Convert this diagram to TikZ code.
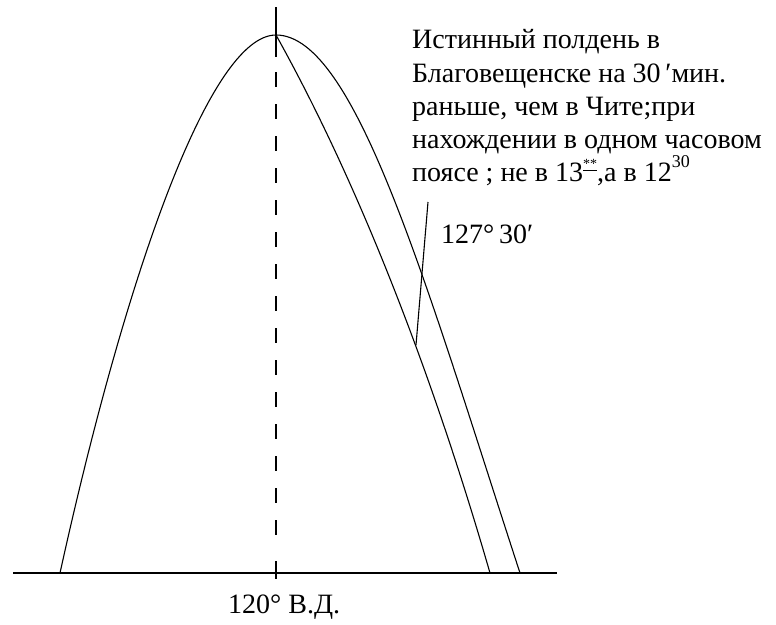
\documentclass[tikz,border=0pt]{standalone}
\usepackage{fontspec}
\setmainfont{Liberation Serif}
\begin{document}
\begin{tikzpicture}[x=1pt,y=-1pt,
  curve/.style={line width=1.1pt},
  axisline/.style={line width=1.4pt},
  lbl/.style={inner sep=0pt,anchor=base west,font=\fontsize{28}{32}\selectfont}]
\useasboundingbox (0,0) rectangle (776,624);
% axis
\coordinate (axL) at (13,573);
\coordinate (axR) at (557,573);
\draw[axisline] (axL) -- (axR);
% meridian 120
\coordinate (apex) at (276,35);
\coordinate (mTop) at (276,7);
\coordinate (mTopEnd) at (276,57);
\coordinate (mDashA) at (276,72);
\coordinate (mDashB) at (276,545);
\coordinate (mBot) at (276,561);
\coordinate (mBotEnd) at (276,579);
\draw[line width=1.1pt] (mTop) -- (mTopEnd);
\draw[line width=1.1pt, dash pattern=on 15pt off 17pt] (mDashA) -- (mDashB);
\draw[line width=1.3pt] (mBot) -- (mBotEnd);
% big curve
\coordinate (footL) at (60,573);
\coordinate (footR) at (520,573);
\draw[curve] (footL) .. controls (124.5,280) and (209,35) .. (apex)
  .. controls (356,35) and (427,288) .. (footR);
% inner curve
\coordinate (footI) at (490,573);
\draw[curve] (apex) .. controls (368,200) and (440,400) .. (footI);
% 127 30 meridian
\coordinate (tA) at (428,202);
\coordinate (tB) at (416,345);
\draw[line width=1.1pt] (tA) -- (tB);
% labels
\node[lbl] (l127) at (441,243) {127°\,30′};
\node[lbl] (l120) at (228,613) {120° В.Д.};
\node[lbl] (t1) at (412,48) {Истинный полдень в};
\node[lbl] (t2) at (412,82) {Благовещенске на 30\,′мин.};
\node[lbl] (t3) at (412,115) {раньше, чем в Чите;при};
\node[lbl] (t4) at (412,148) {нахождении в одном часовом};
\node[lbl] (t5) at (412,181) {поясе ; не в 13\raisebox{0.45em}{\fontsize{14}{15}\selectfont\underline{**}},а в 12\raisebox{0.5em}{\fontsize{18}{20}\selectfont 30}};
\end{tikzpicture}
\end{document}
